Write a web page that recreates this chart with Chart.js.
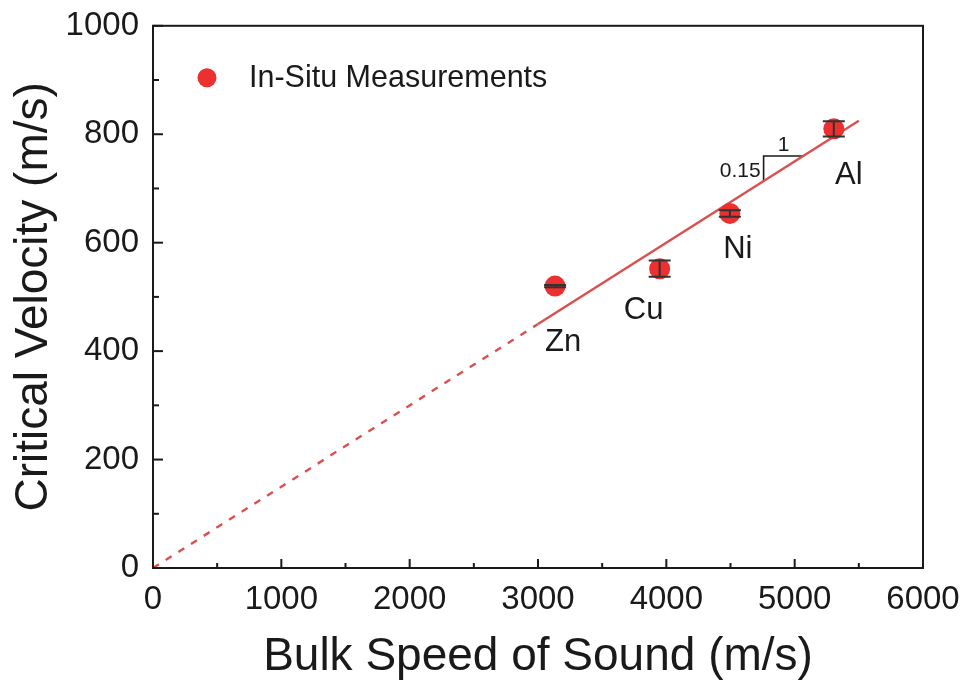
<!DOCTYPE html>
<html>
<head>
<meta charset="utf-8">
<script src="https://cdn.jsdelivr.net/npm/chart.js@4.4.1/dist/chart.umd.min.js"></script>
<style>
  html, body { margin: 0; padding: 0; background: #fff; }
</style>
</head>
<body>
<canvas id="chart" width="967" height="685"></canvas>
<script>
// ---- data ----
const metals = ["Zn", "Cu", "Ni", "Al"];
const bulkSpeed = [3133, 3948, 4495, 5305];      // m/s
const criticalVel = [520, 552, 654, 810];        // m/s
const velError = [2, 15, 6, 14];                 // +/- m/s

// linear fit, slope 0.15 (solid over the data, dashed back to origin)
const fitSolidX = [3000, 5500];
const fitSolidY = [450, 825];
const fitDashX = [0, 3000];
const fitDashY = [0, 450];

// slope triangle
const slopeX = [4758, 4758, 5070];
const slopeY = [714, 760, 760];
const slopeText = ["1", "0.15"];

const legendText = "In-Situ Measurements";

const FONT = "Arial, 'Liberation Sans', sans-serif";
const INK = "#1a1a1a";
const POINT_RED = "#ec2f2f";
const LINE_RED = "#d9504f";

const pts = (xs, ys) => xs.map((v, i) => ({ x: v, y: ys[i] }));

/* ---------- frame + inward ticks ---------- */
const frame = {
  id: "frame",
  afterDraw(chart) {
    const { ctx, chartArea: a, scales: { x, y } } = chart;
    ctx.save();
    ctx.strokeStyle = INK;
    ctx.lineWidth = 2;
    ctx.strokeRect(a.left, a.top, a.right - a.left, a.bottom - a.top);

    const xt = x.ticks.map(t => t.value);
    xt.forEach((v, i) => {
      const px = x.getPixelForValue(v);
      ctx.beginPath(); ctx.moveTo(px, a.bottom); ctx.lineTo(px, a.bottom - 9); ctx.stroke();
      if (i < xt.length - 1) {
        const mx = x.getPixelForValue((v + xt[i + 1]) / 2);
        ctx.beginPath(); ctx.moveTo(mx, a.bottom); ctx.lineTo(mx, a.bottom - 5); ctx.stroke();
      }
    });
    const yt = y.ticks.map(t => t.value);
    yt.forEach((v, i) => {
      const py = y.getPixelForValue(v);
      ctx.beginPath(); ctx.moveTo(a.left, py); ctx.lineTo(a.left + 10, py); ctx.stroke();
      if (i < yt.length - 1) {
        const my = y.getPixelForValue((v + yt[i + 1]) / 2);
        ctx.beginPath(); ctx.moveTo(a.left, my); ctx.lineTo(a.left + 6, my); ctx.stroke();
      }
    });
    ctx.restore();
  }
};

/* ---------- error bars, labels, legend ---------- */
const annotate = {
  id: "annotate",
  afterDatasetsDraw(chart) {
    const { ctx, chartArea: a, scales: { x, y } } = chart;
    ctx.save();

    // error bars
    ctx.strokeStyle = "#333";
    ctx.lineWidth = 2;
    bulkSpeed.forEach((v, i) => {
      const px = x.getPixelForValue(v);
      const top = y.getPixelForValue(criticalVel[i] + velError[i]);
      const bot = y.getPixelForValue(criticalVel[i] - velError[i]);
      ctx.beginPath();
      ctx.moveTo(px, top); ctx.lineTo(px, bot);
      ctx.moveTo(px - 11, top); ctx.lineTo(px + 11, top);
      ctx.moveTo(px - 11, bot); ctx.lineTo(px + 11, bot);
      ctx.stroke();
    });

    // metal names
    const off = { Zn: [8, 56], Cu: [-16, 42], Ni: [8, 36], Al: [15, 47] };
    ctx.fillStyle = INK;
    ctx.font = "31px " + FONT;
    ctx.textAlign = "center";
    ctx.textBaseline = "middle";
    metals.forEach((m, i) => {
      const px = x.getPixelForValue(bulkSpeed[i]) + off[m][0];
      const py = y.getPixelForValue(criticalVel[i]) + off[m][1];
      ctx.fillText(m, px, py);
    });

    // slope triangle numbers
    const cx = x.getPixelForValue(slopeX[1]);
    const cy = y.getPixelForValue(slopeY[1]);
    const ex = x.getPixelForValue(slopeX[2]);
    const by = y.getPixelForValue(slopeY[0]);
    ctx.font = "21px " + FONT;
    ctx.fillText(slopeText[0], (cx + ex) / 2, cy - 11);
    ctx.textAlign = "right";
    ctx.fillText(slopeText[1], cx - 3, (cy + by) / 2 + 3);

    // legend
    const lx = a.left + 54, ly = a.top + 52;
    ctx.fillStyle = POINT_RED;
    ctx.beginPath(); ctx.arc(lx, ly, 9.5, 0, Math.PI * 2); ctx.fill();
    ctx.fillStyle = INK;
    ctx.font = "30.5px " + FONT;
    ctx.textAlign = "left";
    ctx.fillText(legendText, lx + 42, ly + 1);

    ctx.restore();
  }
};

new Chart(document.getElementById("chart"), {
  type: "scatter",
  data: {
    datasets: [
      {
        label: legendText,
        data: pts(bulkSpeed, criticalVel),
        backgroundColor: POINT_RED,
        borderWidth: 0,
        pointRadius: 10.5
      },
      {
        label: "fit",
        data: pts(fitSolidX, fitSolidY),
        showLine: true,
        borderColor: LINE_RED,
        borderWidth: 2.4,
        pointRadius: 0
      },
      {
        label: "fit (extrapolated)",
        data: pts(fitDashX, fitDashY),
        showLine: true,
        borderColor: LINE_RED,
        borderWidth: 2.4,
        borderDash: [7, 8],
        pointRadius: 0
      },
      {
        label: "slope",
        data: pts(slopeX, slopeY),
        showLine: true,
        borderColor: INK,
        borderWidth: 1.6,
        pointRadius: 0
      }
    ]
  },
  options: {
    responsive: false,
    animation: false,
    layout: { padding: { top: 25, right: 44, bottom: 0, left: 0 } },
    plugins: {
      legend: { display: false },
      tooltip: { enabled: false }
    },
    scales: {
      x: {
        type: "linear",
        min: 0, max: 6000,
        grid: { display: false },
        border: { display: false },
        ticks: { stepSize: 1000, color: INK, font: { family: FONT, size: 33 }, padding: 4, maxRotation: 0,
                 callback: v => String(v) },
        title: { display: true, text: "Bulk Speed of Sound (m/s)", color: INK, font: { family: FONT, size: 46 }, padding: { top: 0, bottom: 0 } },
        afterFit(s) { s.height = 117; }
      },
      y: {
        type: "linear",
        min: 0, max: 1000,
        grid: { display: false },
        border: { display: false },
        ticks: { stepSize: 200, color: INK, font: { family: FONT, size: 33 }, padding: 6,
                 callback: v => String(v) },
        title: { display: true, text: "Critical Velocity (m/s)", color: INK, font: { family: FONT, size: 46 }, padding: { top: 7, bottom: 0 } },
        afterFit(s) { s.width = 153; }
      }
    }
  },
  plugins: [frame, annotate]
});
</script>
</body>
</html>
